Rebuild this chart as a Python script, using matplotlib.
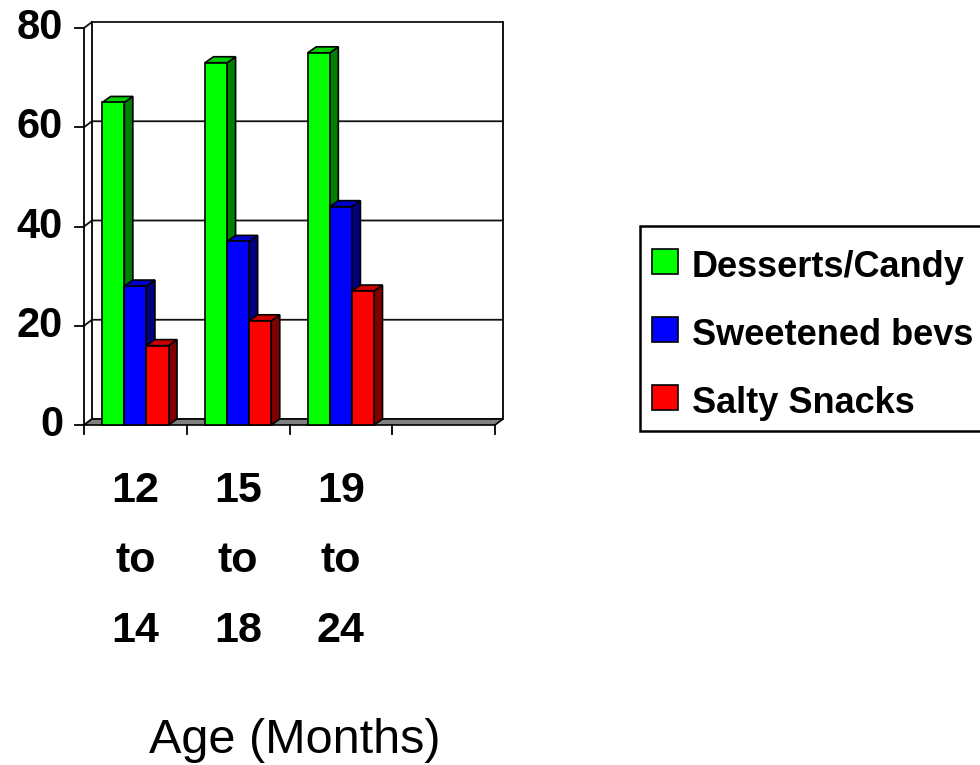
import numpy as np
import matplotlib
matplotlib.use("Agg")
import matplotlib.pyplot as plt
from matplotlib.patches import Polygon, Rectangle

# data
categories = ["12\nto\n14", "15\nto\n18", "19\nto\n24"]
n_slots = 4
series_names = ["Desserts/Candy", "Sweetened bevs", "Salty Snacks"]
desserts = [65, 73, 75]
sweetened = [28, 37, 44]
salty = [16, 21, 27]
yticks = [0, 20, 40, 60, 80]
xlabel = "Age (Months)"

# colours: front, top, side
face_cols = ["#00ff00", "#0000ff", "#ff0000"]
top_cols = ["#00cc00", "#0000cc", "#cc0000"]
side_cols = ["#008000", "#000080", "#800000"]

FONT = "Liberation Sans"
plt.rcParams['font.family'] = [FONT, 'DejaVu Sans']

W, H = 980, 765
fig = plt.figure(figsize=(W / 100, H / 100), dpi=100)
# axes box = front plane of the 3d chart
x0, x1, y0, y1 = 84, 495, 425, 28
ax = fig.add_axes([x0 / W, (H - y0) / H, (x1 - x0) / W, (y0 - y1) / H])
ax.set_xlim(0, n_slots)
ax.set_ylim(0, 80)
ax.axis('off')

px_x = n_slots / (x1 - x0)    # data units per pixel
px_y = 80 / (y0 - y1)

# wall depth offset
wdx, wdy = 8 * px_x, 6 * px_y
# bar depth offset
bdx, bdy = 8.5 * px_x, 6 * px_y

# back wall lines + gridlines (with slant on the left side wall)
for v in yticks:
    ax.plot([0, wdx, n_slots + wdx], [v, v + wdy, v + wdy], color="#111111",
            lw=1.3, clip_on=False, zorder=1, solid_capstyle='butt')
ax.plot([0, 0], [0, 80], color="black", lw=1.3, clip_on=False, zorder=1)
ax.plot([wdx, wdx], [wdy, 80 + wdy], color="black", lw=1.3, clip_on=False, zorder=1)
ax.plot([n_slots + wdx] * 2, [wdy, 80 + wdy], color="black", lw=1.3, clip_on=False, zorder=1)

# floor
floor = Polygon([(0, 0), (n_slots, 0), (n_slots + wdx, wdy), (wdx, wdy)], closed=True,
                facecolor="#808080", edgecolor="black", lw=1.2, clip_on=False, zorder=2)
ax.add_patch(floor)

# ticks
for v in yticks:
    ax.plot([-9 * px_x, 0], [v, v], color="black", lw=1.3, clip_on=False, zorder=2)
    ax.text(-21 * px_x, v, str(v), ha="right", va="center", fontsize=30,
            fontweight="bold", clip_on=False)
for i in range(n_slots + 1):
    ax.plot([i, i], [0, -9 * px_y], color="black", lw=1.3, clip_on=False, zorder=2)

# bars
bw = 0.215
all_series = [desserts, sweetened, salty]
for ci in range(len(categories)):
    for si, vals in enumerate(all_series):
        left = ci + 0.5 + (si - 1) * bw - bw / 2
        h = vals[ci]
        z = 3 + ci * 3 + si
        front = Rectangle((left, 0), bw, h, facecolor=face_cols[si], edgecolor="black",
                          lw=1.2, clip_on=False, zorder=z)
        top = Polygon([(left, h), (left + bw, h), (left + bw + bdx, h + bdy), (left + bdx, h + bdy)],
                      closed=True, facecolor=top_cols[si], edgecolor="black", lw=1.2,
                      clip_on=False, zorder=z)
        side = Polygon([(left + bw, 0), (left + bw + bdx, bdy), (left + bw + bdx, h + bdy), (left + bw, h)],
                       closed=True, facecolor=side_cols[si], edgecolor="black", lw=1.2,
                       clip_on=False, zorder=z)
        ax.add_patch(side)
        ax.add_patch(top)
        ax.add_patch(front)

# category labels, one text per line
for ci, lab in enumerate(categories):
    for li, part in enumerate(lab.split("\n")):
        ax.text(ci + 0.5, (y0 - (502 + 70 * li)) * px_y, part, ha="center", va="baseline",
                fontsize=31, fontweight="bold", clip_on=False)

fig.text(295 / W, (H - 753) / H, xlabel, ha="center", va="baseline", fontsize=35)

# legend (box runs off the right edge like the original)
lg_left, lg_top, lg_bot = 640, 226, 431
fig.patches.append(Rectangle((lg_left / W, (H - lg_bot) / H), (W + 20 - lg_left) / W,
                             (lg_bot - lg_top) / H, transform=fig.transFigure,
                             facecolor="white", edgecolor="black", lw=1.8))
for si, name in enumerate(series_names):
    base = 277 + 68 * si
    fig.patches.append(Rectangle((652 / W, (H - base + 3) / H), 26 / W, 25 / H,
                                 transform=fig.transFigure, facecolor=face_cols[si],
                                 edgecolor="black", lw=1.2))
    fig.text(692 / W, (H - base) / H, name, ha="left", va="baseline", fontsize=26,
             fontweight="bold")

fig.savefig("out.png", dpi=100)
